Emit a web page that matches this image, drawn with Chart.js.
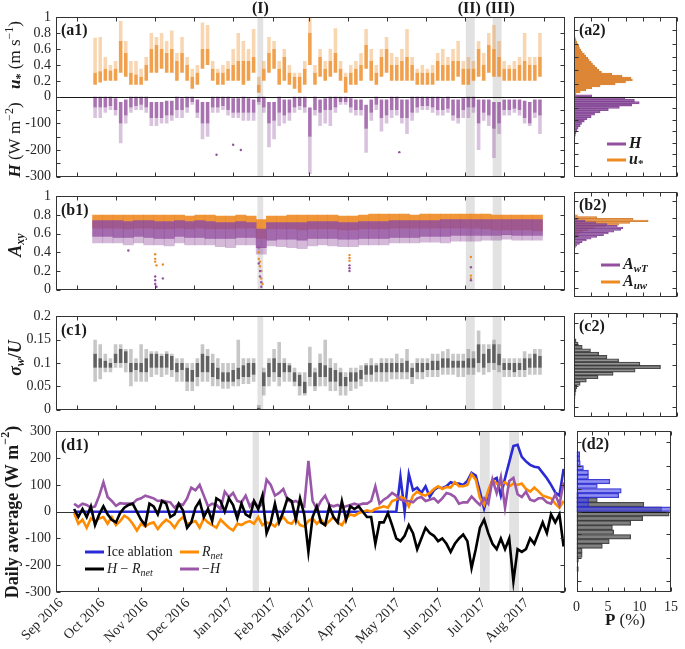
<!DOCTYPE html>
<html>
<head>
<meta charset="utf-8">
<script src="https://cdn.jsdelivr.net/npm/chart.js@4.4.1/dist/chart.umd.min.js"></script>
<style>
  html, body { margin: 0; padding: 0; background: #fff; }
  #wrap { position: relative; width: 685px; height: 649px; overflow: hidden; }
  canvas { position: absolute; }
</style>
</head>
<body>
<div id="wrap">
  <canvas id="a1"></canvas><canvas id="a2"></canvas>
  <canvas id="b1"></canvas><canvas id="b2"></canvas>
  <canvas id="c1"></canvas><canvas id="c2"></canvas>
  <canvas id="d1"></canvas><canvas id="d2"></canvas>
</div>
<script>
// ---- time axis (days since 1 Sep 2016) ----
const monthStarts = [0, 30, 61, 91, 122, 153, 181, 212, 242, 273, 303, 334, 365];
const monthLabels = ['Sep 2016', 'Oct 2016', 'Nov 2016', 'Dec 2016', 'Jan 2017', 'Feb 2017',
  'Mar 2017', 'Apr 2017', 'May 2017', 'Jun 2017', 'Jul 2017', 'Aug 2017'];
const bandStart = [141, 304, 325];
const bandEnd = [145.5, 311, 332];
const bandNames = ['(I)', '(II)', '(III)'];

// ---- (a1) u* and H, 4-day bins: dense core and sparse spikes ----
const scatterDays = Array.from({ length: 88 }, (_, i) => 14 + 4 * i);
const uLow = [.15,.18,.2,.2,.2,.3,.25,.15,.15,.15, .2,.3,.3,.35,.3,.3,.2,.3,.2,.1,
  .15,.35,.4,.2,.15,.15,.2,.2,.2,.15, .2,.3,.05,.2,.3,.35,.15,.2,.15,.1,
  .05,.15,.4,.15,.25,.2,.25,.3,.2,.05, .15,.15,.2,.35,.2,.15,.25,.3,.2,.2,
  .2,.2,.2,.15,.15,.15,.15,.2,.2,.2, .2,.25,.15,.15,.2,.25,.2,.3,.25,.25,
  .2,.2,.2,.2,.2,.2,.2,.25];
const uHigh = [.3,.32,.35,.33,.35,.7,.55,.3,.28,.25, .4,.6,.65,.6,.55,.6,.45,.55,.4,.25,
  .3,.6,.6,.35,.3,.3,.35,.4,.45,.45, .45,.5,.15,.35,.55,.6,.35,.5,.3,.25,
  .25,.35,.8,.3,.5,.35,.45,.55,.35,.25, .3,.35,.4,.65,.45,.3,.5,.6,.4,.4,
  .45,.5,.4,.3,.3,.3,.3,.45,.4,.4, .45,.45,.35,.35,.35,.6,.4,.65,.6,.5,
  .35,.35,.35,.4,.45,.4,.4,.5];
const uTop = [.74,.75,.5,.4,.45,.95,.7,.45,.45,.35, .5,.8,.75,.8,.7,.83,.55,.75,.5,.35,
  .4,.93,.9,.45,.35,.4,.45,.6,.8,.7, .6,.85,.25,.45,.75,.7,.45,.6,.4,.3,
  .3,.45,1.0,.4,.6,.45,.6,.86,.45,.3, .4,.45,.55,.85,.6,.4,.6,.75,.55,.5,
  .6,.85,.5,.35,.4,.35,.4,.55,.6,.5, .6,.7,.45,.5,.45,.7,.55,.8,.9,.7,
  .45,.4,.45,.5,.8,.5,.5,.8];
const hHi = [0,0,0,0,-5,-20,-10,0,0,0, 0,-20,-20,-20,-15,-15,0,-5,0,0,
  -10,-20,-20,0,0,0,0,-5,-5,0, -5,-10,0,0,-20,-20,0,-10,-10,0,
  0,0,-40,0,-10,-5,0,0,0,0, -5,-10,-10,-30,-10,0,-10,-10,0,0,
  -10,-10,0,0,0,0,0,0,-5,0, -10,-10,-5,0,0,-10,-10,-10,-20,-20,
  -10,-10,-10,-10,-15,-20,-10,-10];
const hLo = [-40,-40,-40,-35,-50,-100,-70,-40,-35,-30, -40,-80,-80,-80,-70,-70,-50,-50,-40,-20,
  -60,-100,-100,-40,-40,-35,-50,-60,-60,-60, -60,-60,-20,-40,-100,-90,-60,-70,-60,-40,
  -35,-40,-150,-50,-60,-50,-50,-40,-20,-20, -40,-50,-50,-120,-60,-30,-80,-70,-50,-50,
  -80,-80,-60,-40,-35,-35,-40,-50,-50,-45, -70,-80,-50,-40,-40,-100,-60,-70,-120,-100,
  -50,-50,-45,-50,-80,-100,-60,-70];
const hBot = [-80,-80,-60,-50,-70,-175,-100,-60,-50,-50, -60,-110,-110,-100,-100,-90,-80,-80,-60,-30,
  -80,-160,-150,-60,-60,-50,-70,-80,-80,-90, -90,-90,-30,-60,-190,-160,-110,-100,-90,-60,
  -50,-60,-290,-70,-110,-100,-110,-60,-30,-30, -60,-70,-70,-210,-90,-50,-130,-100,-80,-70,
  -100,-140,-90,-60,-50,-50,-60,-70,-70,-60, -90,-100,-80,-80,-60,-200,-90,-110,-230,-140,
  -70,-70,-60,-70,-100,-110,-80,-140];
const hOutDays = [109, 122, 128, 252];
const hOutVals = [-218, -180, -200, -208];

// ---- (b1) A_uw and A_wT, 8-day bins ----
const weekDays = Array.from({ length: 44 }, (_, i) => 16 + 8 * i);
const auwLow = [.66,.66,.66,.65,.66,.66,.65,.65,.66,.65, .66,.65,.65,.65,.66,.66,.55,.65,.65,.65,
  .64,.65,.65,.65,.64,.64,.65,.65,.65,.66, .66,.66,.66,.66,.66,.66,.66,.66,.65,.64, .64,.64,.64,.63];
const auwHigh = [.80,.80,.80,.80,.80,.80,.80,.80,.80,.79, .80,.80,.79,.79,.80,.79,.75,.79,.79,.80,
  .80,.80,.80,.80,.79,.79,.80,.81,.81,.81, .81,.80,.81,.81,.81,.81,.81,.81,.81,.80, .80,.80,.80,.80];
const awtLow = [.57,.57,.56,.56,.57,.56,.55,.55,.57,.56, .56,.55,.55,.55,.56,.56,.45,.53,.54,.54,
  .53,.55,.55,.55,.54,.54,.55,.55,.55,.56, .56,.56,.57,.57,.57,.58,.58,.58,.58,.58, .59,.58,.58,.58];
const awtHigh = [.74,.74,.74,.73,.74,.74,.73,.73,.74,.73, .74,.73,.72,.72,.73,.72,.65,.72,.72,.72,
  .72,.73,.73,.73,.72,.72,.73,.73,.73,.74, .74,.74,.74,.74,.75,.75,.75,.75,.75,.75, .75,.75,.75,.75];
const awtMin = [.50,.50,.50,.48,.50,.48,.48,.47,.50,.48, .48,.48,.46,.45,.48,.48,.38,.47,.46,.45,
  .44,.47,.48,.47,.46,.46,.48,.48,.48,.50, .50,.50,.51,.51,.50,.52,.52,.52,.53,.53, .54,.53,.53,.53];
const auwOutDays = [61, 61, 61, 62, 67, 142, 142, 143, 143, 144, 144, 145, 213, 213, 213, 308, 308, 308];
const auwOutVals = [.38, .33, .30, .26, .27, .40, .33, .30, .25, .20, .12, .06, .37, .34, .31, .35, .15, .12];
const awtOutDays = [40, 61, 61, 61, 62, 67, 142, 142, 143, 143, 144, 144, 213, 213, 213, 308, 308];
const awtOutVals = [.42, .14, .10, .06, .03, .12, .45, .28, .20, .14, .08, .03, .26, .23, .20, .24, .10];

// ---- (c1) sigma_w/U, 4-day bins ----
const sLow = [.09,.09,.09,.09,.1,.1,.1,.08,.085,.08, .08,.09,.09,.09,.09,.085,.08,.085,.06,.06,
  .07,.08,.08,.07,.065,.06,.06,.06,.065,.07, .07,.075,0,.05,.07,.08,.07,.08,.08,.06,
  .05,.035,.07,.05,.07,.07,.06,.06,.05,.05, .06,.06,.065,.075,.075,.08,.08,.08,.08,.08,
  .08,.08,.07,.08,.08,.085,.085,.085,.09,.09, .09,.09,.09,.09,.09,.1,.09,.1,.1,.095,
  .085,.085,.08,.085,.085,.09,.09,.09];
const sHigh = [.12,.11,.105,.1,.12,.13,.125,.1,.1,.1, .11,.12,.12,.115,.12,.115,.1,.1,.09,.085,
  .1,.12,.115,.1,.09,.08,.08,.085,.09,.095, .1,.1,.004,.08,.1,.11,.1,.1,.095,.08,
  .075,.06,.1,.08,.1,.095,.09,.085,.08,.07, .08,.08,.085,.095,.095,.095,.1,.1,.1,.1,
  .1,.105,.09,.1,.1,.1,.105,.105,.11,.11, .105,.105,.105,.11,.11,.14,.12,.13,.14,.12,
  .1,.1,.1,.1,.11,.11,.12,.115];
const sMin = [.06,.065,.08,.08,.09,.09,.08,.05,.06,.06, .06,.07,.075,.07,.075,.07,.06,.06,.04,.04,
  .05,.06,.06,.05,.05,.045,.045,.05,.05,.055, .055,.06,0,.03,.05,.06,.05,.06,.06,.05,
  .03,.03,.05,.04,.05,.05,.04,.04,.03,.03, .04,.045,.05,.06,.06,.06,.06,.06,.065,.065,
  .065,.065,.055,.065,.065,.07,.07,.07,.075,.075, .075,.07,.07,.075,.075,.08,.075,.08,.085,.08,
  .07,.07,.07,.07,.07,.075,.075,.075];
const sMax = [.15,.14,.12,.11,.14,.14,.13,.13,.11,.14, .13,.125,.125,.12,.125,.12,.11,.11,.1,.1,
  .11,.14,.13,.12,.11,.1,.1,.1,.15,.11, .11,.11,.01,.09,.11,.13,.145,.11,.1,.09,
  .08,.08,.135,.09,.12,.15,.11,.1,.09,.08, .09,.09,.095,.1,.11,.1,.11,.11,.11,.12,
  .11,.13,.1,.11,.11,.11,.12,.12,.125,.13, .12,.12,.12,.13,.125,.17,.14,.14,.15,.14,
  .11,.11,.11,.11,.125,.12,.13,.13];

// ---- (d1) daily averages, W m-2, every 3rd day ----
const dailyDays = Array.from({ length: 118 }, (_, i) => 13 + 3 * i);
const iceAblation = [0,0,0,0,0,0,0,0,0,0, 0,0,0,0,0,0,0,0,0,0, 0,0,0,0,0,0,0,0,0,0,
  0,0,0,0,0,0,0,0,0,0, 0,0,0,0,0,0,0,0,0,0, 0,0,0,0,0,0,0,0,0,0,
  0,0,0,0,0,0,0,0,0,0, 0,0,0,0,0,0,0,0,
  130,0,140,80,90,70,95,55,80,92, 88,95,110,105,105,100,115,145,135,75,
  12,70,118,126,60,125,185,245,250,205, 188,175,168,165,145,125,100,72,60,160];
const rNet = [-5,-45,-30,-60,-25,-35,-25,-20,-45,-20, -50,-35,-15,-25,-45,-70,-45,-55,-45,-40,
  -65,-45,-30,-40,-60,-35,-20,-45,-40,-35, -60,-25,-40,-50,-60,-30,-45,-60,-70,-45,
  -50,-40,-35,-45,-20,-50,-40,-45,-55,-35, -20,-40,-45,-25,-50,-55,-35,-25,-45,-30,
  -50,-35,-20,-40,-50,-25,-10,-15,-5,0, 5,0,10,15,20,15,40,45,55,50,
  20,60,75,65,60,70,85,95,85,92, 90,110,95,95,100,140,120,51,26,80,
  120,105,100,110,95,105,100,105,85,75, 90,76,60,55,50,30,15,40];
const hMinusRnet = [10,-20,10,-20,20,-50,-10,20,-10,-30, -40,-5,15,25,30,0,-30,-50,30,20,
  -10,40,30,-20,-10,30,5,-60,-40,15, 40,-20,10,-35,50,40,0,50,25,-25,
  30,-10,-20,40,10,60,-80,-40,30,-40, 0,50,40,-30,50,-10,-150,-20,20,-40,
  -50,20,-20,-40,40,-30,20,10,20,0, -20,-20,-120,-40,-40,-5,-50,-100,-110,-90,
  -50,-80,-140,-100,-60,-80,-90,-110,-100,-120, -150,-120,-100,-85,-110,-210,-140,-60,-30,-80,
  -120,-140,-100,-140,-100,-260,-140,-150,-140,-100, -120,-80,-40,-80,-10,-40,-10,-130];
const negH = [30,18,30,25,15,20,60,110,55,40, 22,32,30,30,30,45,50,60,55,50,
  40,42,38,35,15,30,25,50,90,80, 100,60,20,30,25,10,75,55,70,40,
  35,60,20,40,15,30,120,100,60,70, 85,45,35,40,30,20,190,40,10,40,
  60,25,20,25,15,20,25,30,25,30, 30,40,95,30,45,55,70,60,45,40,
  40,35,50,55,40,45,50,35,50,70, 65,55,30,35,35,57,40,25,50,30,
  120,70,130,15,115,126,65,55,75,45, 40,50,50,35,30,65,25,110];

// ---- histograms, P (%) ----
const uBins = Array.from({ length: 29 }, (_, i) => 0.045 + 0.03 * i);
const uHist = [0.3,0.9,1.7,2.6,3.8,6.0,7.5,8.5,8.3,7.0, 5.5,4.0,3.6,3.3,3.0,2.7,2.5,2.2,2.0,1.7,
  1.5,1.2,1.0,0.8,0.7,0.5,0.4,0.3,0.2];
const hBins = Array.from({ length: 23 }, (_, i) => 5 - 10 * i);
const hHist = [2.6,7.4,8.8,9.5,8.4,6.6,5.0,3.8,3.0,2.5, 1.9,1.5,1.1,0.9,0.6,0.45,0.3,0.2,0.15,0.1, 0.1,0.05,0.05];
const aBins = Array.from({ length: 20 }, (_, i) => 0.45 + 0.02 * i);
const auwHist = [0,0,0,0,0.05,0.1,0.2,0.3,0.5,0.8, 1.3,2.0,3.0,4.5,6.5,8.1,10.8,8.6,3.3,0.5];
const awtHist = [0.1,0.2,0.4,0.8,1.2,1.8,2.5,3.3,4.3,5.0, 5.8,6.8,7.1,6.3,4.8,3.2,1.6,0.5,0.1,0];
const sBins = Array.from({ length: 18 }, (_, i) => 0.023 + 0.008 * i);
const sHist = [0.15,0.2,0.3,0.4,0.9,1.8,3.5,5.7,8.9,12.6, 9.6,6.5,4.8,3.6,2.4,1.2,0.6,0.3];
const dBins = Array.from({ length: 26 }, (_, i) => 250 - 20 * i);
const iceHist = [0.5,0.5,0.6,1.1,1.9,1.9,5.3,3.3,7.1,6.7, 1.9,1.9,45,0,0,0,0,0,0,0, 0,0,0,0,0,0];
const hrHist = [0,0,0,0,0,0,0,0,0,0.3, 3.3,10.7,13.5,14.7,10.5,8.6,5.7,5.9,8.6,5.2, 4.1,0.9,0.9,0.3,0,0.3];

// ---- tick positions ----
const uTicks = [0, 0.2, 0.4, 0.6, 0.8, 1];
const hTickLabels = [-100, -200, -300];
const hMinor = [-50, -100, -150, -200, -250, -300];
const aTicks = [0, 0.2, 0.4, 0.6, 0.8, 1];
const sTicks = [0, 0.05, 0.1, 0.15, 0.2];
const dTicks = [-300, -200, -100, 0, 100, 200, 300];
const pTicks = [0, 2.5, 5, 7.5, 10, 12.5, 15];
const pLabels = [0, 5, 10, 15];

const ORANGE = '#ee8a22', PURPLE = '#93509f';
const FONT = '"Liberation Serif", "Times New Roman", serif';
Chart.defaults.font.family = FONT;
Chart.defaults.color = '#262626';

// text with italic/bold, sub- and superscripts: flags b, i, _ (sub), ^ (sup)
function rich(ctx, segs, x, y, size, rot, align) {
  ctx.save();
  ctx.translate(x, y);
  if (rot) ctx.rotate(rot);
  const parts = segs.map(([t, st]) => {
    const small = st.includes('_') || st.includes('^');
    const fs = small ? Math.round(size * 0.68) : size;
    const font = (st.includes('i') ? 'italic ' : '') + (st.includes('b') ? 'bold ' : '') + fs + 'px ' + FONT;
    ctx.font = font;
    const dy = st.includes('^') ? -size * 0.38 : st.includes('_') ? size * 0.28 : 0;
    return { t, font, dy, w: ctx.measureText(t).width };
  });
  const total = parts.reduce((s, p) => s + p.w, 0);
  let cx = align === 'left' ? 0 : -total / 2;
  ctx.fillStyle = '#1a1a1a';
  ctx.textBaseline = 'middle';
  ctx.textAlign = 'left';
  parts.forEach(p => { ctx.font = p.font; ctx.fillText(p.t, cx, p.dy); cx += p.w; });
  ctx.restore();
}

const deco = {
  id: 'deco',
  beforeDatasetsDraw(chart, args, o) {
    const { ctx, chartArea: a, scales } = chart;
    ctx.save();
    if (o.bands) {
      ctx.fillStyle = '#e2e2e2';
      bandStart.forEach((s, i) => {
        const x1 = scales.x.getPixelForValue(s), x2 = scales.x.getPixelForValue(bandEnd[i]);
        ctx.fillRect(x1, a.top, x2 - x1, a.bottom - a.top);
      });
    }
    if (o.zeroUnder) {
      const y = Math.round(scales.y.getPixelForValue(0)) + 0.5;
      ctx.strokeStyle = '#333'; ctx.lineWidth = 1;
      ctx.beginPath(); ctx.moveTo(a.left, y); ctx.lineTo(a.right, y); ctx.stroke();
    }
    ctx.restore();
  },
  afterDatasetsDraw(chart, args, o) {
    const { ctx, chartArea: a, scales } = chart;
    const ox = chart.canvas.offsetLeft, oy = chart.canvas.offsetTop;
    const L = Math.round(a.left) + 0.5, R = Math.round(a.right) - 0.5;
    const T = Math.round(a.top) + 0.5, B = Math.round(a.bottom) - 0.5;
    ctx.save();
    ctx.strokeStyle = '#1a1a1a'; ctx.lineWidth = 1;
    if (o.zeroTop) {
      const y = Math.round(scales.y.getPixelForValue(0)) + 0.5;
      ctx.beginPath(); ctx.moveTo(L, y); ctx.lineTo(R, y); ctx.stroke();
    }
    ctx.strokeStyle = '#333';
    ctx.strokeRect(L, T, R - L, B - T);
    ctx.beginPath();
    (o.xt || []).forEach(v => {
      const x = Math.round(scales.x.getPixelForValue(v)) + 0.5;
      ctx.moveTo(x, T); ctx.lineTo(x, T + 4); ctx.moveTo(x, B); ctx.lineTo(x, B - 4);
    });
    const yTick = (sc, v) => {
      const y = Math.round(sc.getPixelForValue(v)) + 0.5;
      ctx.moveTo(L, y); ctx.lineTo(L + 4, y); ctx.moveTo(R, y); ctx.lineTo(R - 4, y);
    };
    (o.yt || []).forEach(v => yTick(scales.y, v));
    (o.yt2 || []).forEach(v => yTick(scales.yH, v));
    ctx.stroke();
    ctx.fillStyle = '#1a1a1a';
    ctx.textBaseline = 'middle';
    if (o.label) {
      ctx.font = 'bold 16px ' + FONT; ctx.textAlign = 'left';
      ctx.fillText(o.label, a.left + 5, a.top + 14);
    }
    if (o.bandLabels) {
      ctx.font = 'bold 16px ' + FONT; ctx.textAlign = 'center';
      bandNames.forEach((n, i) => {
        const x = (scales.x.getPixelForValue(bandStart[i]) + scales.x.getPixelForValue(bandEnd[i])) / 2;
        ctx.fillText(n, x + (i === 2 ? 3 : i === 1 ? -1 : 0), a.top - 8);
      });
    }
    (o.legend || []).forEach(it => {
      ctx.strokeStyle = it.c; ctx.lineWidth = it.lw || 3;
      ctx.beginPath(); ctx.moveTo(it.x - ox, it.y - oy); ctx.lineTo(it.x + 19 - ox, it.y - oy); ctx.stroke();
      rich(ctx, it.segs, it.x + 22 - ox, it.y - oy, it.size || 15, 0, 'left');
    });
    (o.texts || []).forEach(t => rich(ctx, t.segs, t.x - ox, t.y - oy, t.size, t.rot || 0, 'center'));
    ctx.restore();
  }
};

function floating(days, lo, hi, color, extra) {
  return Object.assign({
    type: 'bar', data: days.map((d, i) => ({ x: d, y: [lo[i], hi[i]] })),
    backgroundColor: color, borderWidth: 0, grouped: false, barPercentage: 0.7, categoryPercentage: 1
  }, extra);
}
function dots(days, vals, color, extra) {
  return Object.assign({
    type: 'scatter', data: days.map((d, i) => ({ x: d, y: vals[i] })),
    pointRadius: 1.2, pointBackgroundColor: color, pointBorderWidth: 0, showLine: false
  }, extra);
}
function hist(centers, vals, fill, edge, extra) {
  return Object.assign({
    type: 'bar', data: centers.map((c, i) => ({ x: vals[i], y: c })),
    backgroundColor: fill, borderColor: edge, borderWidth: 0.7, grouped: false,
    barPercentage: 1, categoryPercentage: 1
  }, extra);
}
function daily(vals, color, order) {
  return {
    type: 'line', data: dailyDays.map((d, i) => ({ x: d, y: vals[i] })),
    borderColor: color, borderWidth: 2.6, pointRadius: 0, tension: 0, order
  };
}

function xTime(show) {
  const s = {
    type: 'linear', min: 0, max: 365, display: show,
    grid: { display: false, drawTicks: false }, border: { display: false },
    afterBuildTicks: sc => { sc.ticks = monthStarts.slice(0, 12).map(v => ({ value: v })); },
    ticks: { autoSkip: false, maxRotation: 45, minRotation: 45, labelOffset: 5, padding: 3,
      font: { size: 14 }, callback: (v, i) => monthLabels[i] }
  };
  if (show) s.afterFit = sc => { sc.height = 57; };
  return s;
}
function yLeft(min, max, vals, fmt) {
  return {
    type: 'linear', min, max,
    grid: { display: false, drawTicks: false }, border: { display: false },
    afterBuildTicks: s => { s.ticks = vals.map(v => ({ value: v })); },
    ticks: { autoSkip: false, padding: 5, font: { size: 14 }, callback: fmt },
    afterFit: s => { s.width = 56; }
  };
}
function yHidden(min, max) { return { type: 'linear', min, max, display: false }; }
function xP(show) {
  const s = {
    type: 'linear', min: 0, max: 15, display: show,
    grid: { display: false, drawTicks: false }, border: { display: false },
    afterBuildTicks: sc => { sc.ticks = pLabels.map(v => ({ value: v })); },
    ticks: { autoSkip: false, maxRotation: 0, padding: 7, font: { size: 14 } }
  };
  if (show) s.afterFit = sc => { sc.height = 57; };
  return s;
}
function opts(padding, scales, decoOpts, extra) {
  return Object.assign({
    responsive: false, animation: false, events: [],
    layout: { padding },
    plugins: { legend: { display: false }, tooltip: { enabled: false }, deco: decoOpts },
    scales
  }, extra || {});
}
function make(id, left, top, w, h, config) {
  const c = document.getElementById(id);
  c.width = w; c.height = h;
  c.style.left = left + 'px'; c.style.top = top + 'px';
  config.plugins = [deco];
  return new Chart(c.getContext('2d'), config);
}
const num = v => String(+v.toFixed(2));
const UP = -Math.PI / 2;

// ---------- row a ----------
make('a1', 0, 0, 570, 190, {
  type: 'bar',
  data: { datasets: [
    floating(scatterDays, uLow, uHigh, 'rgba(238,138,34,0.8)', { order: 2 }),
    floating(scatterDays, uHigh, uTop, 'rgba(238,138,34,0.35)', { order: 4 }),
    floating(scatterDays, hLo, hHi, 'rgba(147,80,159,0.8)', { order: 2, yAxisID: 'yH' }),
    floating(scatterDays, hBot, hLo, 'rgba(147,80,159,0.35)', { order: 4, yAxisID: 'yH' }),
    dots(hOutDays, hOutVals, PURPLE, { order: 1, yAxisID: 'yH' })
  ] },
  options: opts({ top: 17, bottom: 13, left: 0, right: 5 }, {
    x: xTime(false),
    y: yLeft(-1, 1, uTicks.concat(hTickLabels.map(h => h / 300)), v => v >= 0 ? num(v) : String(Math.round(v * 300))),
    yH: yHidden(-300, 300)
  }, {
    bands: true, bandLabels: true, zeroTop: true, xt: monthStarts, yt: uTicks, yt2: hMinor, label: '(a1)',
    texts: [
      { segs: [['u', 'bi'], ['*', 'b_'], [' (m s', ''], ['−1', '^'], [')', '']], x: 16, y: 55, size: 17, rot: UP },
      { segs: [['H', 'bi'], [' (W m', ''], ['−2', '^'], [')', '']], x: 16, y: 140, size: 17, rot: UP }
    ]
  })
});
make('a2', 566, 0, 119, 190, {
  type: 'bar',
  data: { datasets: [
    hist(uBins, uHist, 'rgba(240,150,60,0.6)', 'rgba(200,110,30,0.9)', {}),
    hist(hBins, hHist, 'rgba(150,85,165,0.6)', 'rgba(120,60,140,0.9)', { yAxisID: 'yH' })
  ] },
  options: opts({ top: 17, bottom: 13, left: 8, right: 8 }, {
    x: xP(false), y: yHidden(-1, 1), yH: yHidden(-300, 300)
  }, {
    zeroTop: true, xt: pTicks, yt: uTicks, yt2: hMinor, label: '(a2)',
    legend: [
      { c: PURPLE, x: 607, y: 144, segs: [['H', 'bi']], size: 16 },
      { c: ORANGE, x: 607, y: 160, segs: [['u', 'bi'], ['*', 'b_']], size: 16 }
    ]
  }, { indexAxis: 'y' })
});

// ---------- row b ----------
make('b1', 0, 183, 570, 120, {
  type: 'bar',
  data: { datasets: [
    floating(weekDays, auwLow, auwHigh, 'rgba(238,138,34,0.9)', { order: 4, barPercentage: 1 }),
    floating(weekDays, awtMin, awtLow, 'rgba(147,80,159,0.4)', { order: 3, barPercentage: 1 }),
    floating(weekDays, awtLow, awtHigh, 'rgba(147,80,159,0.85)', { order: 2, barPercentage: 1 }),
    dots(auwOutDays, auwOutVals, ORANGE, { order: 1 }),
    dots(awtOutDays, awtOutVals, PURPLE, { order: 0 })
  ] },
  options: opts({ top: 9, bottom: 6, left: 0, right: 5 }, {
    x: xTime(false), y: yLeft(0, 1, aTicks, num)
  }, {
    bands: true, xt: monthStarts, yt: aTicks, label: '(b1)',
    texts: [{ segs: [['A', 'bi'], ['xy', 'bi_']], x: 16, y: 245, size: 18, rot: UP }]
  })
});
make('b2', 566, 183, 119, 120, {
  type: 'bar',
  data: { datasets: [
    hist(aBins, auwHist, 'rgba(240,150,60,0.6)', 'rgba(200,110,30,0.9)', { order: 2 }),
    hist(aBins, awtHist, 'rgba(150,85,165,0.55)', 'rgba(120,60,140,0.9)', { order: 1 })
  ] },
  options: opts({ top: 9, bottom: 6, left: 8, right: 8 }, {
    x: xP(false), y: yHidden(0, 1)
  }, {
    xt: pTicks, yt: aTicks, label: '(b2)',
    legend: [
      { c: PURPLE, x: 601, y: 265, segs: [['A', 'bi'], ['wT', 'bi_']], size: 16 },
      { c: ORANGE, x: 601, y: 282, segs: [['A', 'bi'], ['uw', 'bi_']], size: 16 }
    ]
  }, { indexAxis: 'y' })
});

// ---------- row c ----------
make('c1', 0, 303, 570, 120, {
  type: 'bar',
  data: { datasets: [
    floating(scatterDays, sLow, sHigh, 'rgba(70,70,70,0.85)', { order: 2 }),
    floating(scatterDays, sMin, sLow, 'rgba(70,70,70,0.3)', { order: 3 }),
    floating(scatterDays, sHigh, sMax, 'rgba(70,70,70,0.3)', { order: 3 })
  ] },
  options: opts({ top: 10, bottom: 6, left: 0, right: 5 }, {
    x: xTime(false), y: yLeft(0, 0.2, sTicks, num)
  }, {
    bands: true, xt: monthStarts, yt: sTicks, label: '(c1)',
    texts: [{ segs: [['σ', 'bi'], ['w', 'bi_'], ['/', 'b'], ['U', 'bi']], x: 16, y: 358, size: 18, rot: UP }]
  })
});
make('c2', 566, 303, 119, 120, {
  type: 'bar',
  data: { datasets: [hist(sBins, sHist, 'rgba(90,90,90,0.65)', 'rgba(50,50,50,0.9)', {})] },
  options: opts({ top: 10, bottom: 6, left: 8, right: 8 }, {
    x: xP(false), y: yHidden(0, 0.2)
  }, { xt: pTicks, yt: sTicks, label: '(c2)' }, { indexAxis: 'y' })
});

// ---------- row d ----------
make('d1', 0, 418, 570, 231, {
  type: 'line',
  data: { datasets: [
    daily(iceAblation, '#2b2bd6', 3),
    daily(rNet, '#ff8c00', 2),
    daily(negH, '#9a56a8', 1),
    daily(hMinusRnet, '#000000', 0)
  ] },
  options: opts({ top: 13, bottom: 0, left: 0, right: 5 }, {
    x: xTime(true), y: yLeft(-300, 300, dTicks, num)
  }, {
    bands: true, zeroUnder: true, xt: monthStarts, yt: dTicks, label: '(d1)',
    legend: [
      { c: '#2b2bd6', x: 85, y: 552, segs: [['Ice ablation', '']], size: 14 },
      { c: '#ff8c00', x: 180, y: 552, segs: [['R', 'i'], ['net', 'i_']], size: 14 },
      { c: '#000000', x: 85, y: 569, segs: [['H', 'i'], [' − ', ''], ['R', 'i'], ['net', 'i_']], size: 14 },
      { c: '#9a56a8', x: 180, y: 569, segs: [['−', ''], ['H', 'i']], size: 14 }
    ],
    texts: [{ segs: [['Daily average (W m', 'b'], ['−2', 'b^'], [')', 'b']], x: 13, y: 512, size: 18, rot: UP }]
  })
});
make('d2', 566, 418, 119, 231, {
  type: 'bar',
  data: { datasets: [
    hist(dBins, hrHist, 'rgba(85,85,85,0.75)', 'rgba(50,50,50,0.9)', { order: 2 }),
    hist(dBins, iceHist, 'rgba(70,70,235,0.6)', 'rgba(40,40,200,0.9)', { order: 1 })
  ] },
  options: opts({ top: 13, bottom: 0, left: 8, right: 8 }, {
    x: xP(true), y: yHidden(-300, 300)
  }, {
    zeroTop: true, xt: pTicks, yt: dTicks, label: '(d2)',
    texts: [{ segs: [['P', 'b'], [' (%)', '']], x: 625, y: 621, size: 17 }]
  }, { indexAxis: 'y' })
});
</script>
</body>
</html>
